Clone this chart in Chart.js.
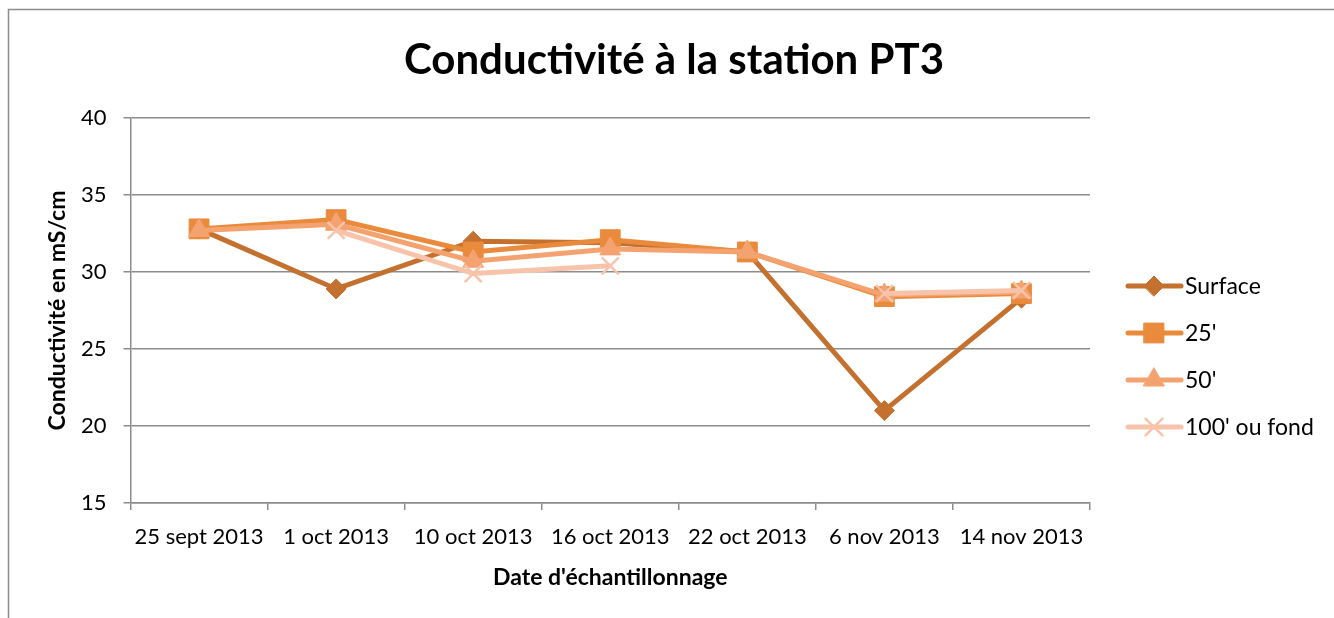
<!DOCTYPE html>
<html>
<head>
<meta charset="utf-8">
<script src="https://cdn.jsdelivr.net/npm/chart.js@4.4.0/dist/chart.umd.min.js"></script>
<style>
  html, body { margin: 0; padding: 0; background: #fff; }
  #wrap { width: 1334px; height: 618px; position: relative; }
</style>
</head>
<body>
<div id="wrap"><canvas id="myChart" width="1334" height="618"></canvas></div>
<script>
// dates d'échantillonnage
const dates = ['25 sept 2013', '1 oct 2013', '10 oct 2013', '16 oct 2013', '22 oct 2013', '6 nov 2013', '14 nov 2013'];
// conductivité (mS/cm) par profondeur
const surface = [32.8, 28.9, 32.0, 31.9, 31.3, 21.0, 28.3];
const p25 = [32.8, 33.4, 31.3, 32.1, 31.3, 28.4, 28.6];
const p50 = [32.7, 33.1, 30.7, 31.5, 31.3, 28.5, 28.7];
const p100 = [null, 32.7, 29.9, 30.4, null, 28.6, 28.8];
const seriesNames = ['Surface', "25'", "50'", "100' ou fond"];
const chartTitle = 'Conductivité à la station PT3';
const yTitle = 'Conductivité en mS/cm';

const FONT = 'Lato, "Open Sans", sans-serif';
const colors = ['#c4712f', '#e98a3c', '#f4a370', '#f7c4ab'];
const shapes = ['rectRot', 'rect', 'triangle', 'crossRot'];
const radii = [10, 14, 12, 12];

function makeSet(i, data) {
    return {
        label: seriesNames[i],
        data: data,
        order: 3 - i, // dernière série dessinée au-dessus, comme Excel
        borderColor: colors[i],
        backgroundColor: colors[i],
        borderWidth: 5,
        pointStyle: shapes[i],
        pointRadius: radii[i],
        pointBorderWidth: shapes[i] == 'crossRot' ? 2.5 : 1,
        pointBorderColor: colors[i],
        pointBackgroundColor: colors[i],
        tension: 0,
        spanGaps: false
    };
}

// cadre, titres et légende dessinés à la main (ligne + marqueur comme dans Excel)
const frame = {
    id: 'frame',
    beforeDraw(chart) {
        let ctx = chart.ctx;
        ctx.save();
        ctx.fillStyle = '#fff';
        ctx.fillRect(0, 0, chart.width, chart.height);
        ctx.strokeStyle = '#8c8c8c';
        ctx.lineWidth = 1.5;
        ctx.strokeRect(8.5, 9.5, chart.width + 20, chart.height + 20);
        ctx.fillStyle = '#000';
        ctx.font = 'bold 42px ' + FONT;
        ctx.textAlign = 'center';
        ctx.textBaseline = 'middle';
        ctx.fillText(chartTitle, 674, 60);
        // titre de l'axe vertical
        let area = chart.chartArea;
        ctx.translate(58, (area.top + area.bottom) / 2);
        ctx.rotate(-Math.PI / 2);
        ctx.font = 'bold 23px ' + FONT;
        ctx.fillText(yTitle, 0, 0);
        ctx.restore();
    },
    afterDraw(chart) {
        let ctx = chart.ctx;
        ctx.save();
        let y0 = 286;
        for (let i = 0; i < seriesNames.length; i++) {
            let y = y0 + i * 47;
            ctx.strokeStyle = colors[i];
            ctx.lineWidth = 5;
            ctx.lineCap = 'round';
            ctx.beginPath();
            ctx.moveTo(1128, y);
            ctx.lineTo(1181, y);
            ctx.stroke();
            ctx.fillStyle = colors[i];
            ctx.strokeStyle = colors[i];
            ctx.lineWidth = shapes[i] == 'crossRot' ? 2.5 : 1;
            Chart.helpers.drawPoint(ctx, {
                pointStyle: shapes[i],
                radius: radii[i],
                borderWidth: shapes[i] == 'crossRot' ? 2.5 : 1
            }, 1154, y);
            ctx.fillStyle = '#000';
            ctx.font = '23px ' + FONT;
            ctx.textBaseline = 'middle';
            ctx.fillText(seriesNames[i], 1185, y + 1);
        }
        ctx.restore();
    }
};

var ctx = document.getElementById('myChart').getContext('2d');
var chart = new Chart(ctx, {
    type: 'line',
    data: {
        labels: dates,
        datasets: [makeSet(0, surface), makeSet(1, p25), makeSet(2, p50), makeSet(3, p100)]
    },
    options: {
        responsive: false,
        animation: false,
        layout: { padding: { left: 64, right: 244, top: 118, bottom: 17 } },
        plugins: {
            legend: { display: false },
            tooltip: { enabled: false },
            title: { display: false }
        },
        scales: {
            x: {
                offset: true,
                grid: { display: true, drawOnChartArea: false, offset: true, color: '#8c8c8c', lineWidth: 1.5, tickLength: 7 },
                border: { color: '#8c8c8c', width: 1.5 },
                ticks: { color: '#000', font: { family: FONT, size: 22 }, maxRotation: 0, autoSkip: false, padding: 14 },
                title: { display: true, text: "Date d'échantillonnage", color: '#000', font: { family: FONT, size: 23, weight: 'bold' }, padding: { top: -1, bottom: 10 } }
            },
            y: {
                min: 15,
                max: 40,
                ticks: { stepSize: 5, color: '#000', font: { family: FONT, size: 22 }, padding: 17 },
                grid: { color: '#8c8c8c', lineWidth: 1.5, tickLength: 7 },
                border: { color: '#8c8c8c', width: 1.5 }
            }
        }
    },
    plugins: [frame]
});
</script>
</body>
</html>
